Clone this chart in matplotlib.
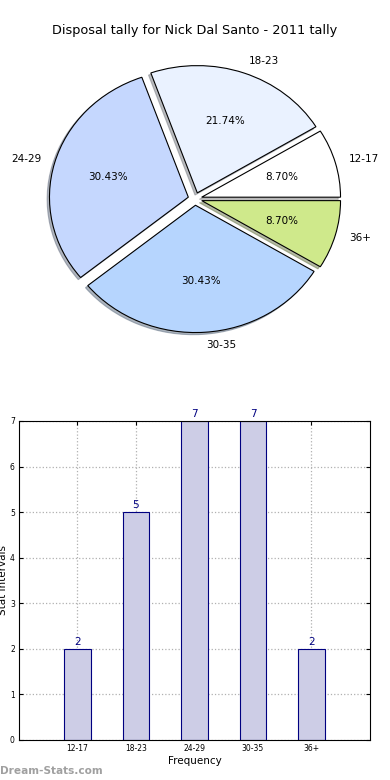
import matplotlib
matplotlib.use("Agg")
import matplotlib.pyplot as plt

groups = ["12-17", "18-23", "24-29", "30-35", "36+"]
counts = [2, 5, 7, 7, 2]
pie_colors = ["#ffffff", "#eaf2ff", "#c5d7fe", "#b6d5fe", "#cfe98b"]
explode = [0.05, 0.05, 0.05, 0.05, 0.05]

fig = plt.figure(figsize=(3.9, 7.8), dpi=100)

# pie (old-style, not forced circular)
ax1 = fig.add_axes([0.055, 0.541, 0.89, 0.408])
wedges, texts, autotexts = ax1.pie(counts, labels=groups, colors=pie_colors, explode=explode,
                                   autopct="%.2f%%",
                                   shadow={"ox": -0.012, "oy": -0.012, "shade": 0.5},
                                   wedgeprops=dict(edgecolor="black", linewidth=0.8),
                                   textprops=dict(fontsize=7.5))
ax1.set_aspect("auto")
ax1.set_xlim(-1.25, 1.25)
ax1.set_ylim(-1.25, 1.25)
fig.text(0.5, 0.961, "Disposal tally for Nick Dal Santo - 2011 tally", ha="center", va="center", fontsize=9.3)

# bar chart
ax2 = fig.add_axes([0.0487, 0.0513, 0.9, 0.409])
x = list(range(1, len(groups) + 1))
ax2.bar(x, counts, width=0.45, color="#cdcde6", edgecolor="#000080", linewidth=0.8, zorder=2)
for xi, c in zip(x, counts):
    ax2.text(xi, c + 0.05, str(c), ha="center", va="bottom", color="#000080", fontsize=7.5)
ax2.set_xlim(0, 6)
ax2.set_ylim(0, 7)
ax2.set_xticks(x)
ax2.set_xticklabels(groups)
ax2.set_yticks(range(0, 8))
ax2.tick_params(direction="in", labelsize=5.5, top=True, right=True, length=3, pad=3)
ax2.grid(True, linestyle=":", color="#b0b0b0", linewidth=0.9, zorder=0)
ax2.set_xlabel("Frequency", fontsize=7.5, labelpad=2)
ax2.set_ylabel("Stat Intervals", fontsize=7.5)
ax2.yaxis.set_label_coords(-0.03, 0.5)

fig.text(0.0, 0.012, "Dream-Stats.com", color="#a0a0a0", fontsize=7.6, fontweight="bold", ha="left", va="center")

fig.savefig("out.png", dpi=100)
